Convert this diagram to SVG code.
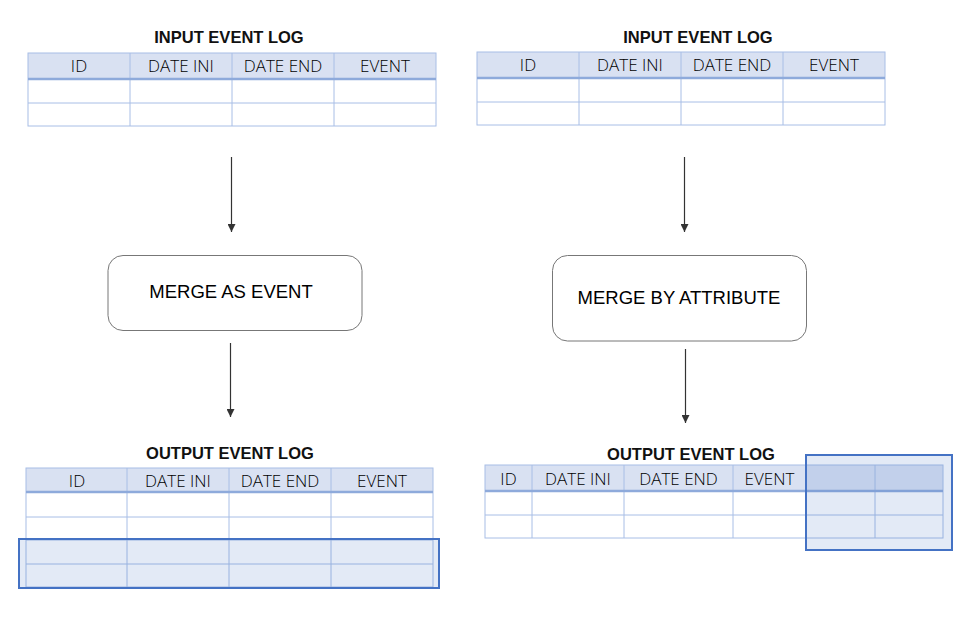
<svg xmlns="http://www.w3.org/2000/svg" width="972" height="632" viewBox="0 0 972 632">
<defs>
<style>
.title{font-family:"Liberation Sans",Arial,sans-serif;font-weight:bold;font-size:16.5px;fill:#111;text-anchor:middle}
.hdr{font-family:"Open Sans","Liberation Sans",sans-serif;font-weight:300;font-size:17px;fill:#000;text-anchor:middle}
.lbl{font-family:"Liberation Sans",Arial,sans-serif;font-size:18.5px;fill:#000;text-anchor:middle}
.hfill{fill:#d9e1f2}
.grid{stroke:#a8bee6;stroke-width:1;fill:none}
.thick{stroke:#8eaadb;stroke-width:2.5}
.box{fill:#fff;stroke:#777;stroke-width:1}
.hl{fill:#4472c4;fill-opacity:0.15;stroke:#4472c4;stroke-width:2}
.conn{stroke:#333;stroke-width:1.2;fill:none}
</style>
<marker id="arr" viewBox="0 0 10 10" refX="10" refY="5" markerWidth="8" markerHeight="8" markerUnits="userSpaceOnUse" orient="auto"><path d="M0,0 L10,5 L0,10 z" fill="#333"/></marker>
</defs>
<rect width="972" height="632" fill="#fff"/>

<g id="input-left">
<text class="title" x="229" y="43">INPUT EVENT LOG</text>
<rect class="hfill" x="28" y="53" width="408" height="26"/>
<rect class="grid" x="28" y="53" width="408" height="73"/>
<line class="grid" x1="28" y1="103" x2="436" y2="103"/>
<line class="grid" x1="130" y1="53" x2="130" y2="126"/>
<line class="grid" x1="232" y1="53" x2="232" y2="126"/>
<line class="grid" x1="334" y1="53" x2="334" y2="126"/>
<line class="thick" x1="28" y1="79" x2="436" y2="79"/>
<text class="hdr" x="79" y="72">ID</text>
<text class="hdr" x="181" y="72">DATE INI</text>
<text class="hdr" x="283" y="72">DATE END</text>
<text class="hdr" x="385" y="72">EVENT</text>
</g>

<g id="input-right">
<text class="title" x="698" y="43">INPUT EVENT LOG</text>
<rect class="hfill" x="477" y="52" width="408" height="26"/>
<rect class="grid" x="477" y="52" width="408" height="73"/>
<line class="grid" x1="477" y1="102" x2="885" y2="102"/>
<line class="grid" x1="579" y1="52" x2="579" y2="125"/>
<line class="grid" x1="681" y1="52" x2="681" y2="125"/>
<line class="grid" x1="783" y1="52" x2="783" y2="125"/>
<line class="thick" x1="477" y1="78" x2="885" y2="78"/>
<text class="hdr" x="528" y="71">ID</text>
<text class="hdr" x="630" y="71">DATE INI</text>
<text class="hdr" x="732" y="71">DATE END</text>
<text class="hdr" x="834" y="71">EVENT</text>
</g>

<g id="merge-as-event">
<rect class="box" x="108" y="255.5" width="254" height="75" rx="15"/>
<text class="lbl" x="231" y="298">MERGE AS EVENT</text>
</g>

<g id="merge-by-attribute">
<rect class="box" x="552.5" y="255.5" width="254" height="85.5" rx="15"/>
<text class="lbl" x="679" y="304">MERGE BY ATTRIBUTE</text>
</g>

<g id="output-left">
<text class="title" x="230" y="459">OUTPUT EVENT LOG</text>
<rect class="hfill" x="26" y="468" width="407" height="24"/>
<rect class="grid" x="26" y="468" width="407" height="119"/>
<line class="grid" x1="26" y1="517" x2="433" y2="517"/>
<line class="grid" x1="26" y1="540" x2="433" y2="540"/>
<line class="grid" x1="26" y1="564" x2="433" y2="564"/>
<line class="grid" x1="127" y1="468" x2="127" y2="587"/>
<line class="grid" x1="229" y1="468" x2="229" y2="587"/>
<line class="grid" x1="331" y1="468" x2="331" y2="587"/>
<line class="thick" x1="26" y1="492" x2="433" y2="492"/>
<text class="hdr" x="77" y="487">ID</text>
<text class="hdr" x="178" y="487">DATE INI</text>
<text class="hdr" x="280" y="487">DATE END</text>
<text class="hdr" x="382" y="487">EVENT</text>
<rect class="hl" x="19" y="539" width="420" height="49"/>
</g>

<g id="output-right">
<text class="title" x="691" y="460">OUTPUT EVENT LOG</text>
<rect class="hfill" x="485" y="465" width="458" height="26"/>
<rect class="grid" x="485" y="465" width="458" height="73"/>
<line class="grid" x1="485" y1="515" x2="943" y2="515"/>
<line class="grid" x1="532" y1="465" x2="532" y2="538"/>
<line class="grid" x1="624" y1="465" x2="624" y2="538"/>
<line class="grid" x1="733" y1="465" x2="733" y2="538"/>
<line class="grid" x1="875" y1="465" x2="875" y2="538"/>
<line class="thick" x1="485" y1="491" x2="943" y2="491"/>
<text class="hdr" x="508.5" y="485">ID</text>
<text class="hdr" x="578" y="485">DATE INI</text>
<text class="hdr" x="678.5" y="485">DATE END</text>
<text class="hdr" x="769.5" y="485">EVENT</text>
<rect class="hl" x="806" y="455" width="146" height="95"/>
</g>

<g id="connectors">
<line class="conn" x1="231.5" y1="157" x2="231.5" y2="232" marker-end="url(#arr)"/>
<line class="conn" x1="230.5" y1="343" x2="230.5" y2="417" marker-end="url(#arr)"/>
<line class="conn" x1="684.5" y1="157" x2="684.5" y2="232" marker-end="url(#arr)"/>
<line class="conn" x1="685.5" y1="349" x2="685.5" y2="423" marker-end="url(#arr)"/>
</g>
</svg>
